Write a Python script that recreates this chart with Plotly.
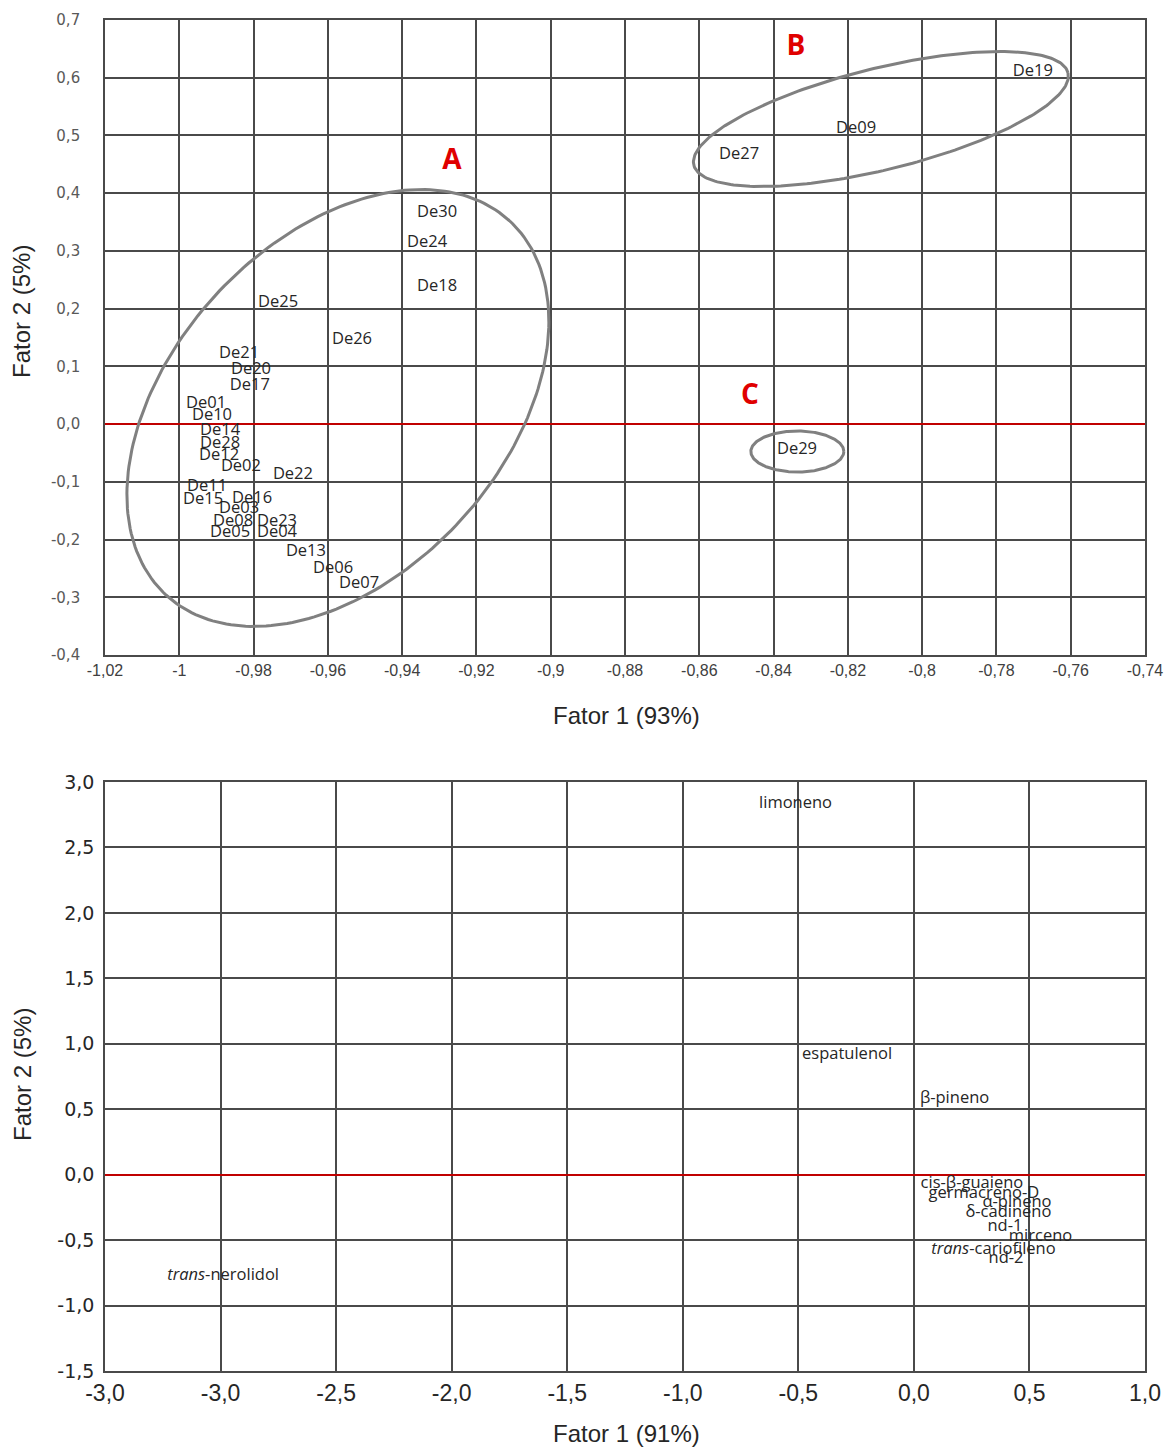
import numpy as np
import plotly.graph_objects as go

W, H = 1166, 1447

# ---------------- data: top chart (samples) ----------------
samples = ["De30", "De24", "De18", "De25", "De26", "De21", "De20", "De17", "De01", "De10",
           "De14", "De28", "De12", "De02", "De22", "De11", "De15", "De16", "De03", "De08",
           "De23", "De05", "De04", "De13", "De06", "De07", "De19", "De09", "De27", "De29"]
f1_samples = [-0.9306, -0.9333, -0.9306, -0.9734, -0.9535, -0.9839, -0.9807, -0.9810, -0.9928, -0.9912,
              -0.9890, -0.9890, -0.9893, -0.9834, -0.9694, -0.9925, -0.9936, -0.9804, -0.9839, -0.9855,
              -0.9737, -0.9863, -0.9737, -0.9659, -0.9586, -0.9516, -0.7702, -0.8178, -0.8493, -0.8337]
f2_samples = [0.366, 0.314, 0.2375, 0.2098, 0.1457, 0.1214, 0.0937, 0.066, 0.0348, 0.014,
              -0.012, -0.0345, -0.0553, -0.0743, -0.0882, -0.109, -0.1315, -0.1298, -0.1471, -0.1696,
              -0.1696, -0.1887, -0.1887, -0.2216, -0.251, -0.277, 0.61, 0.5112, 0.4661, -0.0449]

groups = ["A", "B", "C"]
group_f1 = [-0.9266, -0.834, -0.8464]
group_f2 = [0.454, 0.6515, 0.0469]

top_xticks = [-1.02, -1.0, -0.98, -0.96, -0.94, -0.92, -0.9, -0.88, -0.86, -0.84, -0.82, -0.8, -0.78, -0.76, -0.74]
top_xlabels = ["-1,02", "-1", "-0,98", "-0,96", "-0,94", "-0,92", "-0,9", "-0,88", "-0,86", "-0,84",
               "-0,82", "-0,8", "-0,78", "-0,76", "-0,74"]
top_yticks = [-0.4, -0.3, -0.2, -0.1, 0.0, 0.1, 0.2, 0.3, 0.4, 0.5, 0.6, 0.7]
top_ylabels = ["-0,4", "-0,3", "-0,2", "-0,1", "0,0", "0,1", "0,2", "0,3", "0,4", "0,5", "0,6", "0,7"]

# ---------------- data: bottom chart (compounds) ----------------
compounds = ["limoneno", "espatulenol", "β-pineno", "cis-β-guaieno", "germacreno-D", "α-pineno",
             "δ-cadineno", "nd-1", "mirceno", "<i>trans</i>-cariofileno", "nd-2", "<i>trans</i>-nerolidol"]
f1_comp = [-0.512, -0.289, 0.176, 0.251, 0.303, 0.446, 0.409, 0.394, 0.548, 0.3445, 0.3986, -2.989]
f2_comp = [2.832, 0.914, 0.578, -0.071, -0.148, -0.2165, -0.293, -0.400, -0.476, -0.576, -0.644, -0.774]

bot_xticks = [-3.5, -3.0, -2.5, -2.0, -1.5, -1.0, -0.5, 0.0, 0.5, 1.0]
bot_xlabels = ["-3,0", "-3,0", "-2,5", "-2,0", "-1,5", "-1,0", "-0,5", "0,0", "0,5", "1,0"]
bot_yticks = [-1.5, -1.0, -0.5, 0.0, 0.5, 1.0, 1.5, 2.0, 2.5, 3.0]
bot_ylabels = ["-1,5", "-1,0", "-0,5", "0,0", "0,5", "1,0", "1,5", "2,0", "2,5", "3,0"]

# ---------------- layout geometry ----------------
xdom = [105 / W, 1145 / W]
ydom1 = [1 - 655 / H, 1 - 20 / H]
ydom2 = [1 - 1371 / H, 1 - 782 / H]
xr1, yr1 = [-1.02, -0.74], [-0.4, 0.7]
xr2, yr2 = [-3.5, 1.0], [-1.5, 3.0]

GRID = "#4a4a4a"
RED = "#c00000"
LABEL_FONT = "Open Sans"
NARROW = "Liberation Sans Narrow, Liberation Sans, sans-serif"

fig = go.Figure()

# ellipses (group outlines), defined by centre (data) and semi-axes in screen pixels
pw = (xdom[1] - xdom[0]) * W
ph1 = (ydom1[1] - ydom1[0]) * H
ux = (xr1[1] - xr1[0]) / pw
uy = (yr1[1] - yr1[0]) / ph1
ellipses = [(-0.9573, 0.0279, 254, 166.5, 47.5),
            (-0.8111, 0.5285, 192.7, 50.75, 13.85),
            (-0.8336, -0.0475, 46.5, 20.5, 0.0)]
t = np.linspace(0, 2 * np.pi, 241)
for cx, cy, a, b, ang in ellipses:
    th = np.radians(ang)
    dx = a * np.cos(t) * np.cos(th) - b * np.sin(t) * np.sin(th)
    dy = a * np.cos(t) * np.sin(th) + b * np.sin(t) * np.cos(th)
    fig.add_trace(go.Scatter(x=cx + dx * ux, y=cy + dy * uy, mode="lines",
                             line=dict(color="#808080", width=3), hoverinfo="skip",
                             showlegend=False, xaxis="x", yaxis="y"))

fig.add_trace(go.Scatter(x=f1_samples, y=f2_samples, text=samples, mode="text",
                         textposition="middle center",
                         textfont=dict(family=LABEL_FONT, size=16.5, color="#262626"),
                         showlegend=False, xaxis="x", yaxis="y"))
fig.add_trace(go.Scatter(x=group_f1, y=group_f2, text=groups, mode="text",
                         textposition="middle center",
                         textfont=dict(family="Open Sans", size=28, color="#e00000", weight="bold"),
                         showlegend=False, xaxis="x", yaxis="y"))

fig.add_trace(go.Scatter(x=f1_comp, y=f2_comp, text=compounds, mode="text",
                         textposition="middle center",
                         textfont=dict(family=LABEL_FONT, size=16.5, color="#262626"),
                         showlegend=False, xaxis="x2", yaxis="y2"))

common = dict(showgrid=True, gridcolor=GRID, gridwidth=1.6, showline=True, mirror=True,
              linecolor=GRID, linewidth=1.6, ticks="", fixedrange=True, automargin=False)

fig.update_layout(
    width=W, height=H, margin=dict(l=0, r=0, t=0, b=0),
    paper_bgcolor="white", plot_bgcolor="white", showlegend=False,
    xaxis=dict(domain=xdom, range=xr1, anchor="y", tickmode="array", tickvals=top_xticks,
               ticktext=top_xlabels, zeroline=False, ticklabelstandoff=0,
               tickfont=dict(family=NARROW, size=16, color="#404040"), **common),
    yaxis=dict(domain=ydom1, range=yr1, anchor="x", tickmode="array", tickvals=top_yticks,
               ticktext=top_ylabels, zeroline=True, zerolinecolor=RED, zerolinewidth=2,
               ticklabelstandoff=20,
               tickfont=dict(family="DejaVu Sans", size=15, color="#595959"), **common),
    xaxis2=dict(domain=xdom, range=xr2, anchor="y2", tickmode="array", tickvals=bot_xticks,
                ticktext=bot_xlabels, zeroline=False, ticklabelstandoff=1,
                tickfont=dict(family=NARROW, size=23, color="#262626"), **common),
    yaxis2=dict(domain=ydom2, range=yr2, anchor="x2", tickmode="array", tickvals=bot_yticks,
                ticktext=bot_ylabels, zeroline=True, zerolinecolor=RED, zerolinewidth=2,
                ticklabelstandoff=5,
                tickfont=dict(family="DejaVu Sans", size=19, color="#262626"), **common),
)

title_font = dict(family=NARROW, size=24, color="#262626")
fig.add_annotation(text="Fator 1 (93%)", xref="paper", yref="paper", x=626 / W, y=1 - 715 / H,
                   showarrow=False, font=title_font, xanchor="center", yanchor="middle")
fig.add_annotation(text="Fator 2 (5%)", xref="paper", yref="paper", x=22 / W, y=1 - 312 / H,
                   showarrow=False, font=title_font, textangle=-90, xanchor="center", yanchor="middle")
fig.add_annotation(text="Fator 1 (91%)", xref="paper", yref="paper", x=626 / W, y=1 - 1433 / H,
                   showarrow=False, font=title_font, xanchor="center", yanchor="middle")
fig.add_annotation(text="Fator 2 (5%)", xref="paper", yref="paper", x=22 / W, y=1 - 1075 / H,
                   showarrow=False, font=title_font, textangle=-90, xanchor="center", yanchor="middle")

fig.write_html("out.html")
